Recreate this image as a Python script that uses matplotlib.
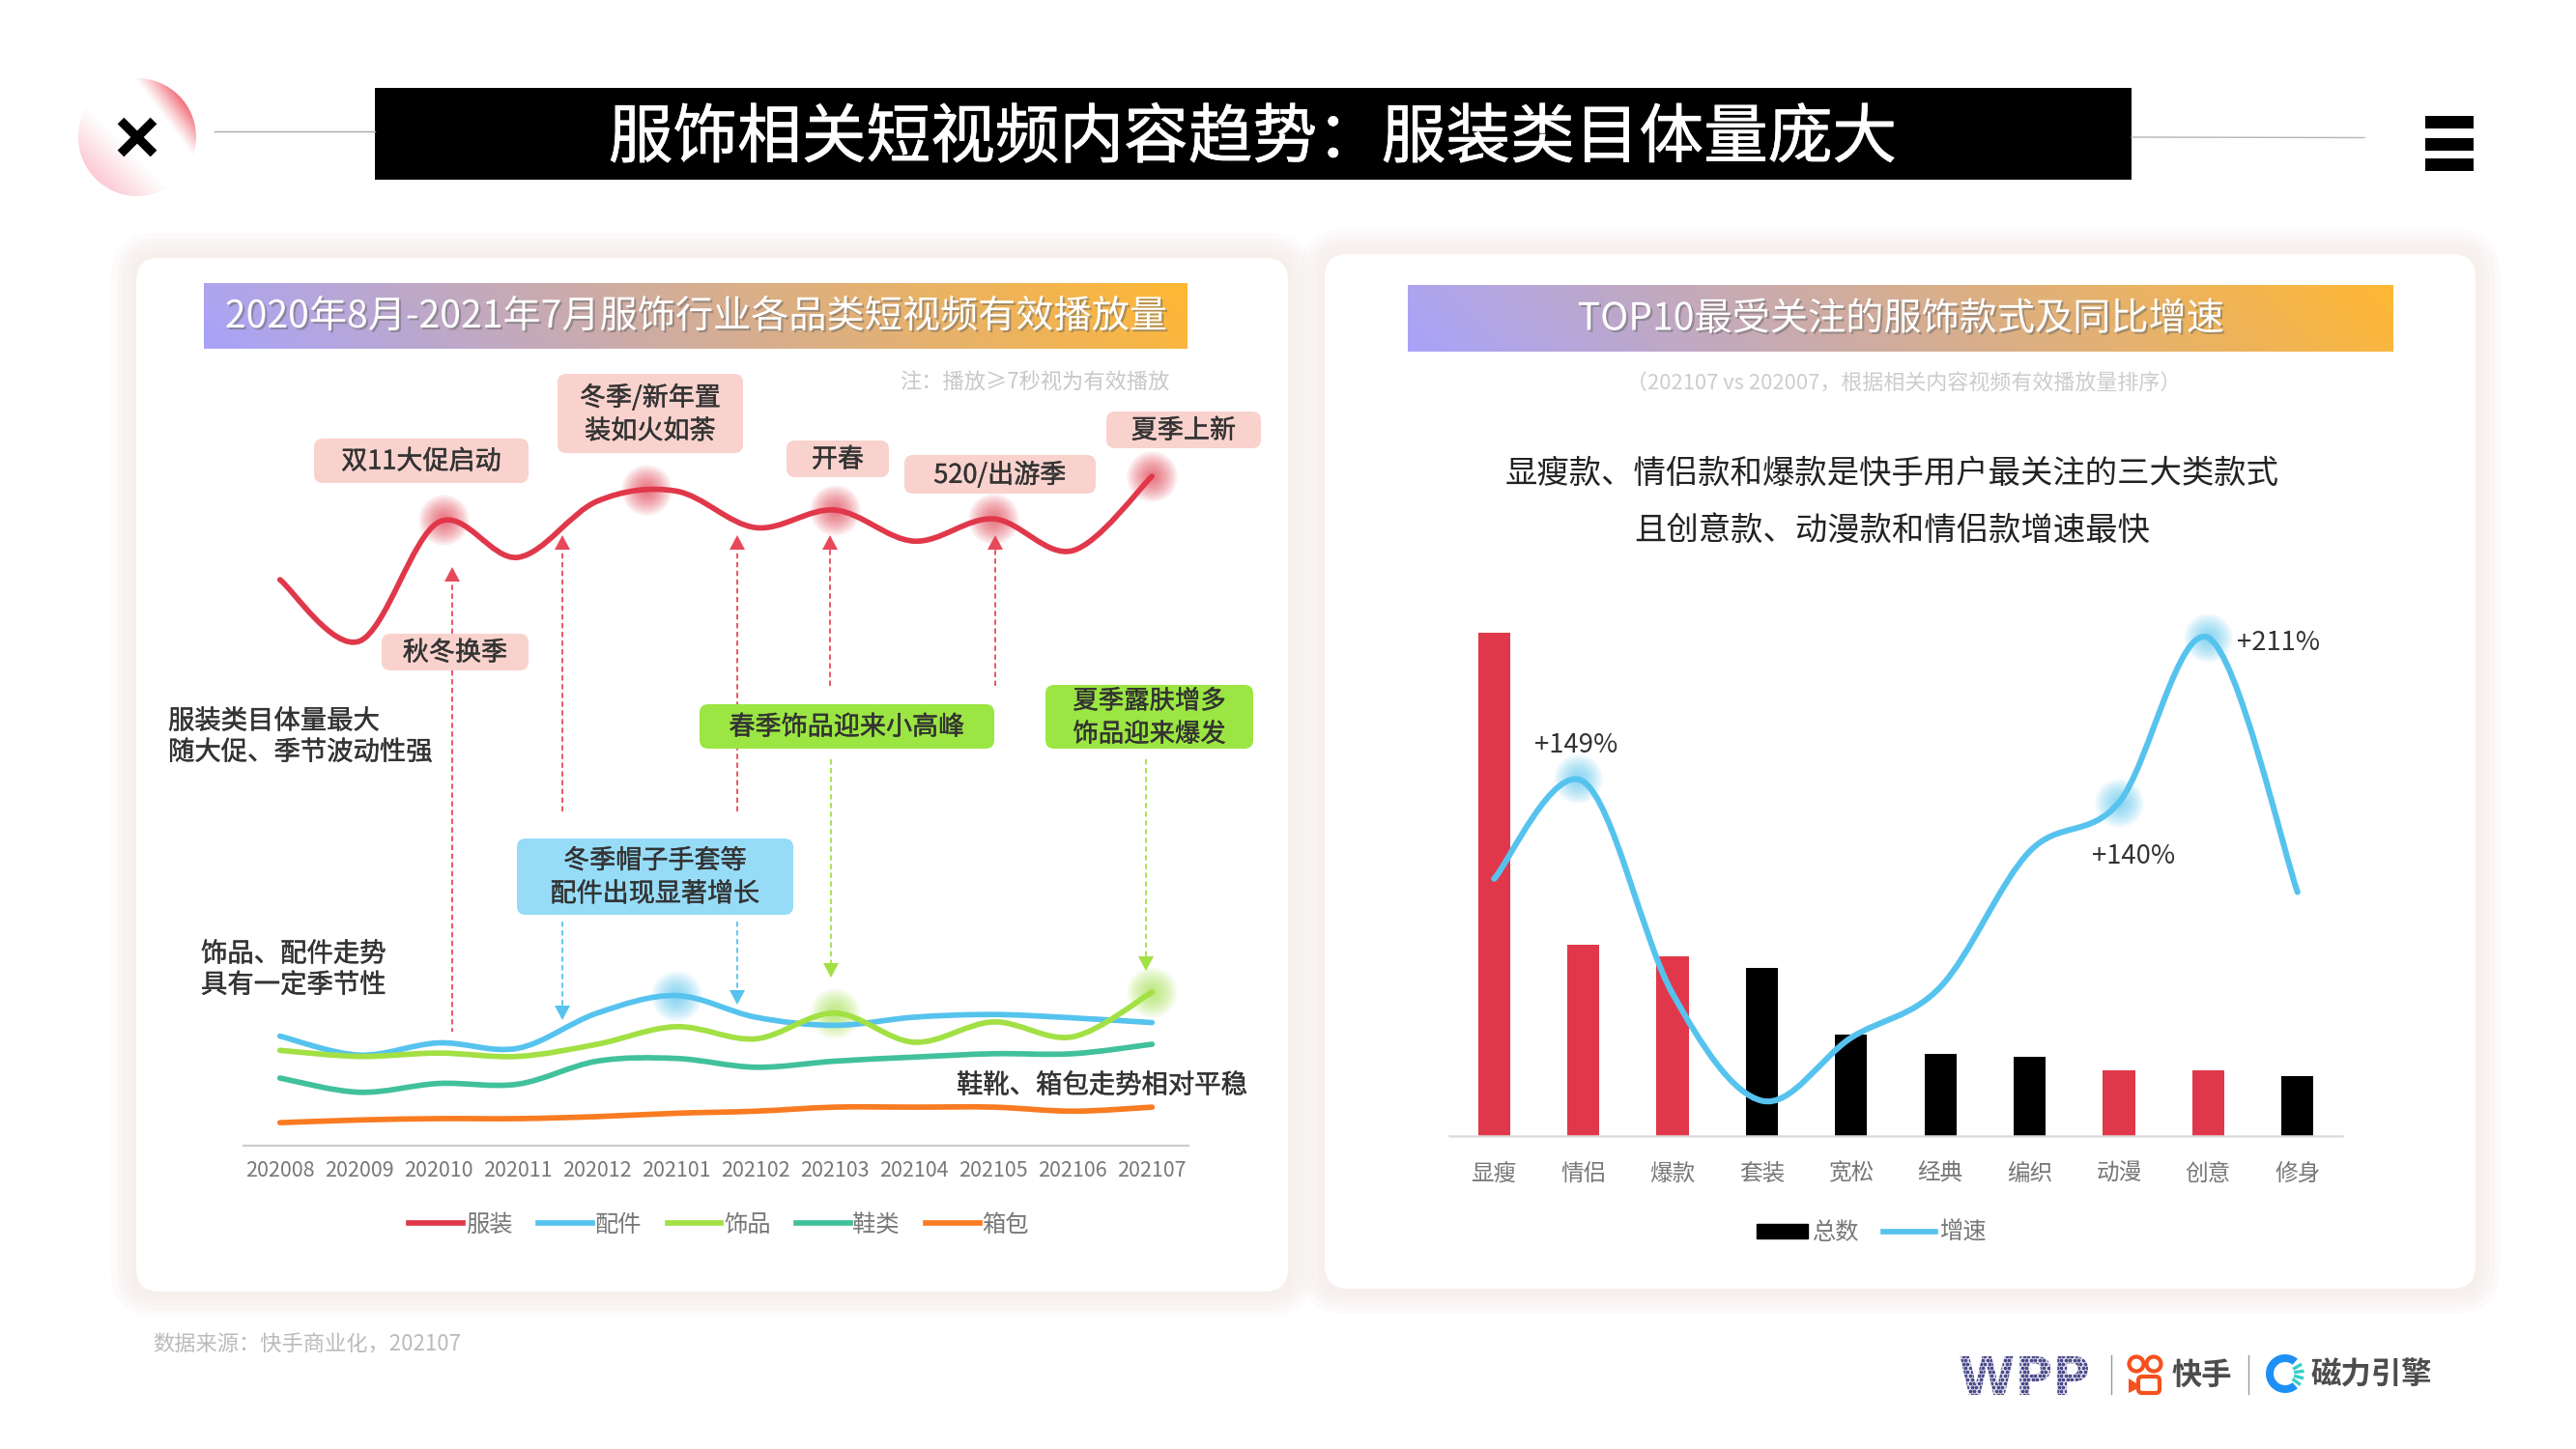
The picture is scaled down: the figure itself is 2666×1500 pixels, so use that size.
import numpy as np
import matplotlib
matplotlib.use("Agg")
import matplotlib.pyplot as plt
import matplotlib.patheffects as pe
from matplotlib.patches import FancyBboxPatch, Circle, Wedge, Polygon, PathPatch, Rectangle, Patch
from matplotlib.path import Path
from matplotlib.textpath import TextPath
from matplotlib.font_manager import FontProperties
from matplotlib.transforms import Affine2D

plt.rcParams['font.family'] = ['Noto Sans CJK SC', 'DejaVu Sans']

MONTHS = ["202008", "202009", "202010", "202011", "202012", "202101",
          "202102", "202103", "202104", "202105", "202106", "202107"]
CLOTHES = [83.7, 74.6, 92.2, 87.0, 95.3, 96.8, 91.4, 94.0, 89.4, 92.7, 88.0, 99.0]
PARTS = [16.2, 13.4, 15.2, 14.4, 19.6, 22.2, 19.0, 17.8, 19.0, 19.4, 18.9, 18.2]
JEWELRY = [14.1, 13.2, 13.7, 13.2, 15.0, 17.6, 15.8, 19.6, 15.3, 18.3, 16.1, 22.7]
SHOES = [10.0, 7.9, 9.2, 9.1, 12.5, 12.9, 11.6, 12.5, 13.1, 13.6, 13.6, 15.0]
BAGS = [3.4, 3.8, 4.0, 4.0, 4.3, 4.8, 5.1, 5.7, 5.7, 5.7, 5.1, 5.7]

STYLES = ["显瘦", "情侣", "爆款", "套装", "宽松", "经典", "编织", "动漫", "创意", "修身"]
TOTALS = [100, 38.1, 35.7, 33.4, 20.1, 16.4, 15.8, 13.1, 13.1, 11.9]
GROWTH = [107, 149, 57.5, 11.3, 38.5, 60.4, 118.9, 140, 211, 101.3]
HIGHLIGHT = [True, True, True, False, False, False, False, True, True, False]

RED = "#e0384a"
BLUE = "#56c3ee"
GREEN = "#a2e044"
TEAL = "#41c19b"
ORANGE = "#f97b22"
DARK = "#333333"


def smooth_path(x, y):
    # same kind of smoothing as the office chart line, bezier through the data points
    x = np.asarray(x, float)
    y = np.asarray(y, float)
    verts = [(x[0], y[0])]
    codes = [Path.MOVETO]
    for i in range(len(x) - 1):
        x0, y0 = (x[i - 1], y[i - 1]) if i > 0 else (x[i], y[i])
        x3, y3 = (x[i + 2], y[i + 2]) if i + 2 < len(x) else (x[i + 1], y[i + 1])
        c1 = (x[i] + (x[i + 1] - x0) / 6, y[i] + (y[i + 1] - y0) / 6)
        c2 = (x[i + 1] - (x3 - x[i]) / 6, y[i + 1] - (y3 - y[i]) / 6)
        verts += [c1, c2, (x[i + 1], y[i + 1])]
        codes += [Path.CURVE4] * 3
    return Path(verts, codes)


def curve_peak(path, i):
    # highest point of the smoothed line around data point i
    pts = path.to_polygons(closed_only=False)[0]
    near = pts[np.abs(pts[:, 0] - i) < 0.75]
    return near[np.argmax(near[:, 1])]


def glow(ax, x, y, color, d=52):
    for k in np.linspace(1, 0.2, 10):
        s = (d * k * 0.72) ** 2
        ax.scatter([x], [y], s=s, color=color, alpha=0.09, linewidths=0, zorder=2, clip_on=False)


def draw_line(ax, x, y, color, lw=4.1):
    path = smooth_path(x, y)
    ax.add_patch(PathPatch(path, fill=False, edgecolor=color, lw=lw, capstyle='round', zorder=3, clip_on=False))
    return path


def panel(ax, x0, y0, x1, y1):
    for grow, a in zip([26, 20, 14, 8, 3], [0.25, 0.3, 0.4, 0.5, 0.7]):
        ax.add_patch(FancyBboxPatch((x0 - grow, y0 - grow), x1 - x0 + 2 * grow, y1 - y0 + 2 * grow,
                                    boxstyle=f"round,pad=0,rounding_size={22 + grow}",
                                    fc="#f6efec", ec="none", alpha=a))
    ax.add_patch(FancyBboxPatch((x0, y0), x1 - x0, y1 - y0, boxstyle="round,pad=0,rounding_size=24",
                                fc="white", ec="none"))


def header(ax, x0, y0, x1, y1, label):
    u = np.linspace(0, 1, 300)
    v = np.linspace(0, 1, 40)
    uu, vv = np.meshgrid(u, v)
    t = np.clip(0.94 * uu + 0.06 * (1 - vv), 0, 1)[..., None]
    left = np.array([0.66, 0.64, 0.98])
    right = np.array([1.0, 0.72, 0.2])
    ax.imshow(left + (right - left) * t, extent=(x0, x1, y1, y0), aspect='auto', zorder=2)
    ax.text((x0 + x1) / 2, (y0 + y1) / 2 + 1, label, color="white", fontsize=28.2, ha='center', va='center', zorder=3,
            path_effects=[pe.withSimplePatchShadow(offset=(1.5, -1.5), shadow_rgbFace="#666666", alpha=0.5)])


def bolder(color, w=0.3):
    return [pe.withStroke(linewidth=w, foreground=color)]


def note_box(ax, x0, y0, x1, y1, label, color, size=19.5):
    ax.add_patch(FancyBboxPatch((x0, y0), x1 - x0, y1 - y0, boxstyle="round,pad=0,rounding_size=9",
                                fc=color, ec="none", zorder=5))
    ax.text((x0 + x1) / 2, (y0 + y1) / 2 + 1, label, fontsize=size, color=DARK, ha='center', va='center',
            linespacing=1.35, zorder=6, path_effects=bolder(DARK))


def arrow(ax, x, y_from, y_tip, color):
    # y_tip is where the head points to, works up or down
    sign = 1 if y_tip > y_from else -1
    ax.plot([x, x], [y_from, y_tip - sign * 12], color=color, lw=1.3, ls=(0, (3, 2)), zorder=4)
    ax.add_patch(Polygon([(x, y_tip), (x - 8, y_tip - sign * 15), (x + 8, y_tip - sign * 15)],
                         fc=color, ec="none", zorder=4))


fig = plt.figure(figsize=(26.66, 15), dpi=100, facecolor="white")

# pixel layers, one under and one over the two charts
bg = fig.add_axes([0, 0, 1, 1], zorder=0)
fg = fig.add_axes([0, 0, 1, 1], zorder=3)
for layer in (bg, fg):
    layer.set_xlim(0, 2666)
    layer.set_ylim(1500, 0)
    layer.axis("off")
    layer.patch.set_alpha(0)

panel(bg, 141, 267, 1333, 1337)
panel(bg, 1371, 263, 2562, 1334)
header(bg, 211, 293, 1229, 361, "2020年8月-2021年7月服饰行业各品类短视频有效播放量")
header(bg, 1457, 295, 2477, 364, "TOP10最受关注的服饰款式及同比增速")
bg.set_xlim(0, 2666)
bg.set_ylim(1500, 0)

# title bar
bg.add_patch(Rectangle((388, 91), 1818, 95, fc="black", ec="none"))
bg.text(1296, 144, "服饰相关短视频内容趋势：服装类目体量庞大", color="white", fontsize=48, ha='center', va='center',
        path_effects=bolder("white", 0.5))
bg.plot([222, 388], [136, 136], color="#aaaaaa", lw=1)
bg.plot([2206, 2447], [142, 142.5], color="#b5b5b5", lw=1)

# corner mark
gx, gy = np.meshgrid(np.linspace(-1, 1, 240), np.linspace(-1, 1, 240))
upper = np.clip((0.8 * gx - 0.6 * gy - 0.55) / 0.45, 0, 1)
lower = np.clip((-0.7 * gx + 0.7 * gy - 0.2) / 0.7, 0, 1)
mark = np.zeros((240, 240, 4))
mark[..., :3] = (0.98, 0.6, 0.68)
mark[upper > 0, :3] = (0.94, 0.36, 0.41)
mark[..., 3] = np.maximum(upper ** 1.2 * 0.9, lower ** 1.2 * 0.48)
img = bg.imshow(mark, extent=(81, 204, 204, 81), aspect='auto', zorder=2)
img.set_clip_path(Circle((142, 142), 61, transform=bg.transData))
bg.set_xlim(0, 2666)
bg.set_ylim(1500, 0)
bg.plot([125, 159], [125, 159], color="black", lw=6.8, solid_capstyle='butt', zorder=3)
bg.plot([159, 125], [125, 159], color="black", lw=6.8, solid_capstyle='butt', zorder=3)

# menu mark
for y in (120, 143, 164):
    bg.add_patch(Rectangle((2510, y), 50, 12.5, fc="black", ec="none"))

# left chart
ax1 = fig.add_axes([252 / 2666, 1 - 1186 / 1500, 978 / 2666, 700 / 1500], zorder=1)
ax1.patch.set_alpha(0)
x = np.arange(len(MONTHS))
ax1.set_xlim(-0.46, 11.46)
ax1.set_ylim(0, 100)
clothes_path = draw_line(ax1, x, CLOTHES, RED)
parts_path = draw_line(ax1, x, PARTS, BLUE)
draw_line(ax1, x, SHOES, TEAL)
draw_line(ax1, x, BAGS, ORANGE)
jewelry_path = draw_line(ax1, x, JEWELRY, GREEN)
for i in (2, 5, 7, 9):
    px, py = curve_peak(clothes_path, i)
    glow(ax1, px, py, RED)
glow(ax1, 11, CLOTHES[11], RED)
glow(ax1, 5, PARTS[5], BLUE)
glow(ax1, 7, JEWELRY[7], GREEN)
glow(ax1, 11, JEWELRY[11], GREEN)
ax1.set_xticks(x)
ax1.set_xticklabels(MONTHS, fontsize=15.5, color="#777777")
ax1.set_yticks([])
ax1.tick_params(axis='x', length=0, pad=11)
for side in ("top", "left", "right"):
    ax1.spines[side].set_visible(False)
ax1.spines["bottom"].set_color("#cccccc")
ax1.spines["bottom"].set_linewidth(1.6)

series = [("服装", RED), ("配件", BLUE), ("饰品", GREEN), ("鞋类", TEAL), ("箱包", ORANGE)]
handles1 = [plt.Line2D([], [], color=c, lw=4.1, label=name) for name, c in series]
legend1 = fg.legend(handles=handles1, loc='center', bbox_to_anchor=(744, 1268), bbox_transform=fg.transData,
                    ncol=5, frameon=False, fontsize=17.5, labelcolor="#777777", handlelength=2.3,
                    handletextpad=0.1, columnspacing=1.1, borderpad=0, borderaxespad=0)
fg.add_artist(legend1)

# right chart
ax2 = fig.add_axes([1500 / 2666, 1 - 1176 / 1500, 924 / 2666, 700 / 1500], zorder=1)
ax2.patch.set_alpha(0)
x2 = np.arange(len(STYLES))
ax2.bar(x2, TOTALS, width=0.36, color=[RED if h else "black" for h in HIGHLIGHT], zorder=1)
ax2.set_xlim(-0.5, 9.5)
ax2.set_ylim(0, 134.4)
ax2.set_xticks(x2)
ax2.set_xticklabels(STYLES, fontsize=17, color="#777777")
ax2.set_yticks([])
ax2.tick_params(axis='x', length=0, pad=20)
for side in ("top", "left", "right"):
    ax2.spines[side].set_visible(False)
ax2.spines["bottom"].set_color("#dddddd")
ax2.spines["bottom"].set_linewidth(1.8)

# growth in % on its own scale over the same pixel height
ax2b = ax2.twinx()
ax2b.patch.set_alpha(0)
ax2b.set_ylim(-3.9, 700 / (3.42 / 1.425) - 3.9)
ax2b.set_yticks([])
for side in ("top", "left", "right", "bottom"):
    ax2b.spines[side].set_visible(False)
growth_path = draw_line(ax2b, x2, GROWTH, BLUE, lw=4.4)
px, py = curve_peak(growth_path, 1)
glow(ax2b, px, py, BLUE, d=50)
for i in (7, 8):
    glow(ax2b, i, GROWTH[i], BLUE, d=50)
ax2b.annotate("+149%", (1, GROWTH[1]), xytext=(-5, 27), textcoords="offset points", fontsize=19.8, color=DARK,
              ha='center', va='center')
ax2b.annotate("+140%", (7, GROWTH[7]), xytext=(11, -40), textcoords="offset points", fontsize=19.8, color=DARK,
              ha='center', va='center')
ax2b.annotate("+211%", (8, GROWTH[8]), xytext=(52, -4), textcoords="offset points", fontsize=19.8, color=DARK,
              ha='center', va='center')

handles2 = [Patch(color="black", label="总数"), plt.Line2D([], [], color=BLUE, lw=4.1, label="增速")]
fg.legend(handles=handles2, loc='center', bbox_to_anchor=(1937, 1276), bbox_transform=fg.transData,
          ncol=2, frameon=False, fontsize=17.5, labelcolor="#777777", handlelength=2.2, handleheight=0.55,
          handletextpad=0.2, columnspacing=1.0, borderpad=0, borderaxespad=0)

# arrows behind the notes
PINK_ARROW = "#e8495a"
arrow(fg, 468, 656, 587, PINK_ARROW)
fg.plot([468, 468], [694, 1068], color=PINK_ARROW, lw=1.3, ls=(0, (3, 2)), zorder=4)
arrow(fg, 582, 840, 554, PINK_ARROW)
arrow(fg, 763, 840, 554, PINK_ARROW)
arrow(fg, 859, 710, 554, PINK_ARROW)
arrow(fg, 1030, 710, 554, PINK_ARROW)
arrow(fg, 582, 954, 1056, BLUE)
arrow(fg, 763, 954, 1040, BLUE)
arrow(fg, 860, 786, 1012, GREEN)
arrow(fg, 1186, 786, 1005, GREEN)

PINK_BOX = "#f9d2cd"
note_box(fg, 325, 454, 547, 500, "双11大促启动", PINK_BOX)
note_box(fg, 577, 387, 769, 469, "冬季/新年置\n装如火如荼", PINK_BOX)
note_box(fg, 814, 456, 920, 494, "开春", PINK_BOX)
note_box(fg, 936, 471, 1134, 511, "520/出游季", PINK_BOX)
note_box(fg, 1145, 426, 1305, 464, "夏季上新", PINK_BOX)
note_box(fg, 395, 656, 547, 694, "秋冬换季", PINK_BOX)
note_box(fg, 724, 729, 1029, 775, "春季饰品迎来小高峰", "#9be642")
note_box(fg, 1082, 709, 1297, 775, "夏季露肤增多\n饰品迎来爆发", "#9be642", size=19)
note_box(fg, 535, 868, 821, 947, "冬季帽子手套等\n配件出现显著增长", "#96dcf7")

fg.text(174, 763, "服装类目体量最大\n随大促、季节波动性强", fontsize=19.7, color=DARK, ha='left', va='center',
        linespacing=1.25, path_effects=bolder(DARK))
fg.text(208, 1004, "饰品、配件走势\n具有一定季节性", fontsize=19.7, color=DARK, ha='left', va='center',
        linespacing=1.25, path_effects=bolder(DARK))
fg.text(990, 1124, "鞋靴、箱包走势相对平稳", fontsize=19.7, color=DARK, ha='left', va='center', path_effects=bolder(DARK))
fg.text(1210, 396, "注：播放≥7秒视为有效播放", fontsize=16, color="#c8c8c8", ha='right', va='center')
fg.text(1970, 398, "（202107 vs 202007，根据相关内容视频有效播放量排序）", fontsize=15.8, color="#cccccc", ha='center', va='center')
fg.text(1958, 490, "显瘦款、情侣款和爆款是快手用户最关注的三大类款式", fontsize=24, color="#222222", ha='center', va='center')
fg.text(1958, 549, "且创意款、动漫款和情侣款增速最快", fontsize=24, color="#222222", ha='center', va='center')
fg.text(158, 1392, "数据来源：快手商业化，202107", fontsize=16, color="#bbbbbb", ha='left', va='center')

# logos at the bottom right
wpp = TextPath((0, 0), "WPP", size=50, prop=FontProperties(family="DejaVu Sans", weight="bold"))
trans = Affine2D().scale(1.06, -1.1).translate(2027, 1444) + fg.transData
wpp_patch = PathPatch(wpp, transform=trans, fc="none", ec="none")
fg.add_patch(wpp_patch)
dx, dy = np.meshgrid(np.arange(2025, 2172, 4.5), np.arange(1400, 1448, 4.0))
dx[1::2] += 2.25
dots = fg.scatter(dx.ravel(), dy.ravel(), s=8, color="#2c2c78", linewidths=0, alpha=0.85)
dots.set_clip_path(wpp_patch)
fg.plot([2185, 2185], [1403, 1443], color="#999999", lw=1)
fg.plot([2327, 2327], [1403, 1443], color="#999999", lw=1)
for cx in (2211, 2229):
    fg.add_patch(Circle((cx, 1412), 7.5, fc="none", ec="#f4511e", lw=3))
fg.add_patch(FancyBboxPatch((2213, 1425), 22, 17, boxstyle="round,pad=0,rounding_size=4", fc="none", ec="#f4511e", lw=3))
fg.add_patch(Polygon([(2203, 1427), (2211, 1432), (2211, 1438), (2203, 1442)], fc="#f4511e", ec="none"))
fg.text(2247, 1424, "快手", fontsize=22.5, color="#4d4d4d", ha='left', va='center', weight='bold')
fg.add_patch(Wedge((2365, 1422), 20, 50, 310, width=8, fc="#1e90f5", ec="none"))
for ang in (30, 8, -14, -36):
    a = np.deg2rad(ang)
    fg.plot([2365 + 11 * np.cos(a), 2365 + 18 * np.cos(a)], [1422 - 11 * np.sin(a), 1422 - 18 * np.sin(a)],
            color="#35d0c8", lw=2.4)
fg.text(2391, 1424, "磁力引擎", fontsize=22.6, color="#4d4d4d", ha='left', va='center', weight='bold')

fig.savefig("out.png", dpi=100)
plt.close(fig)
